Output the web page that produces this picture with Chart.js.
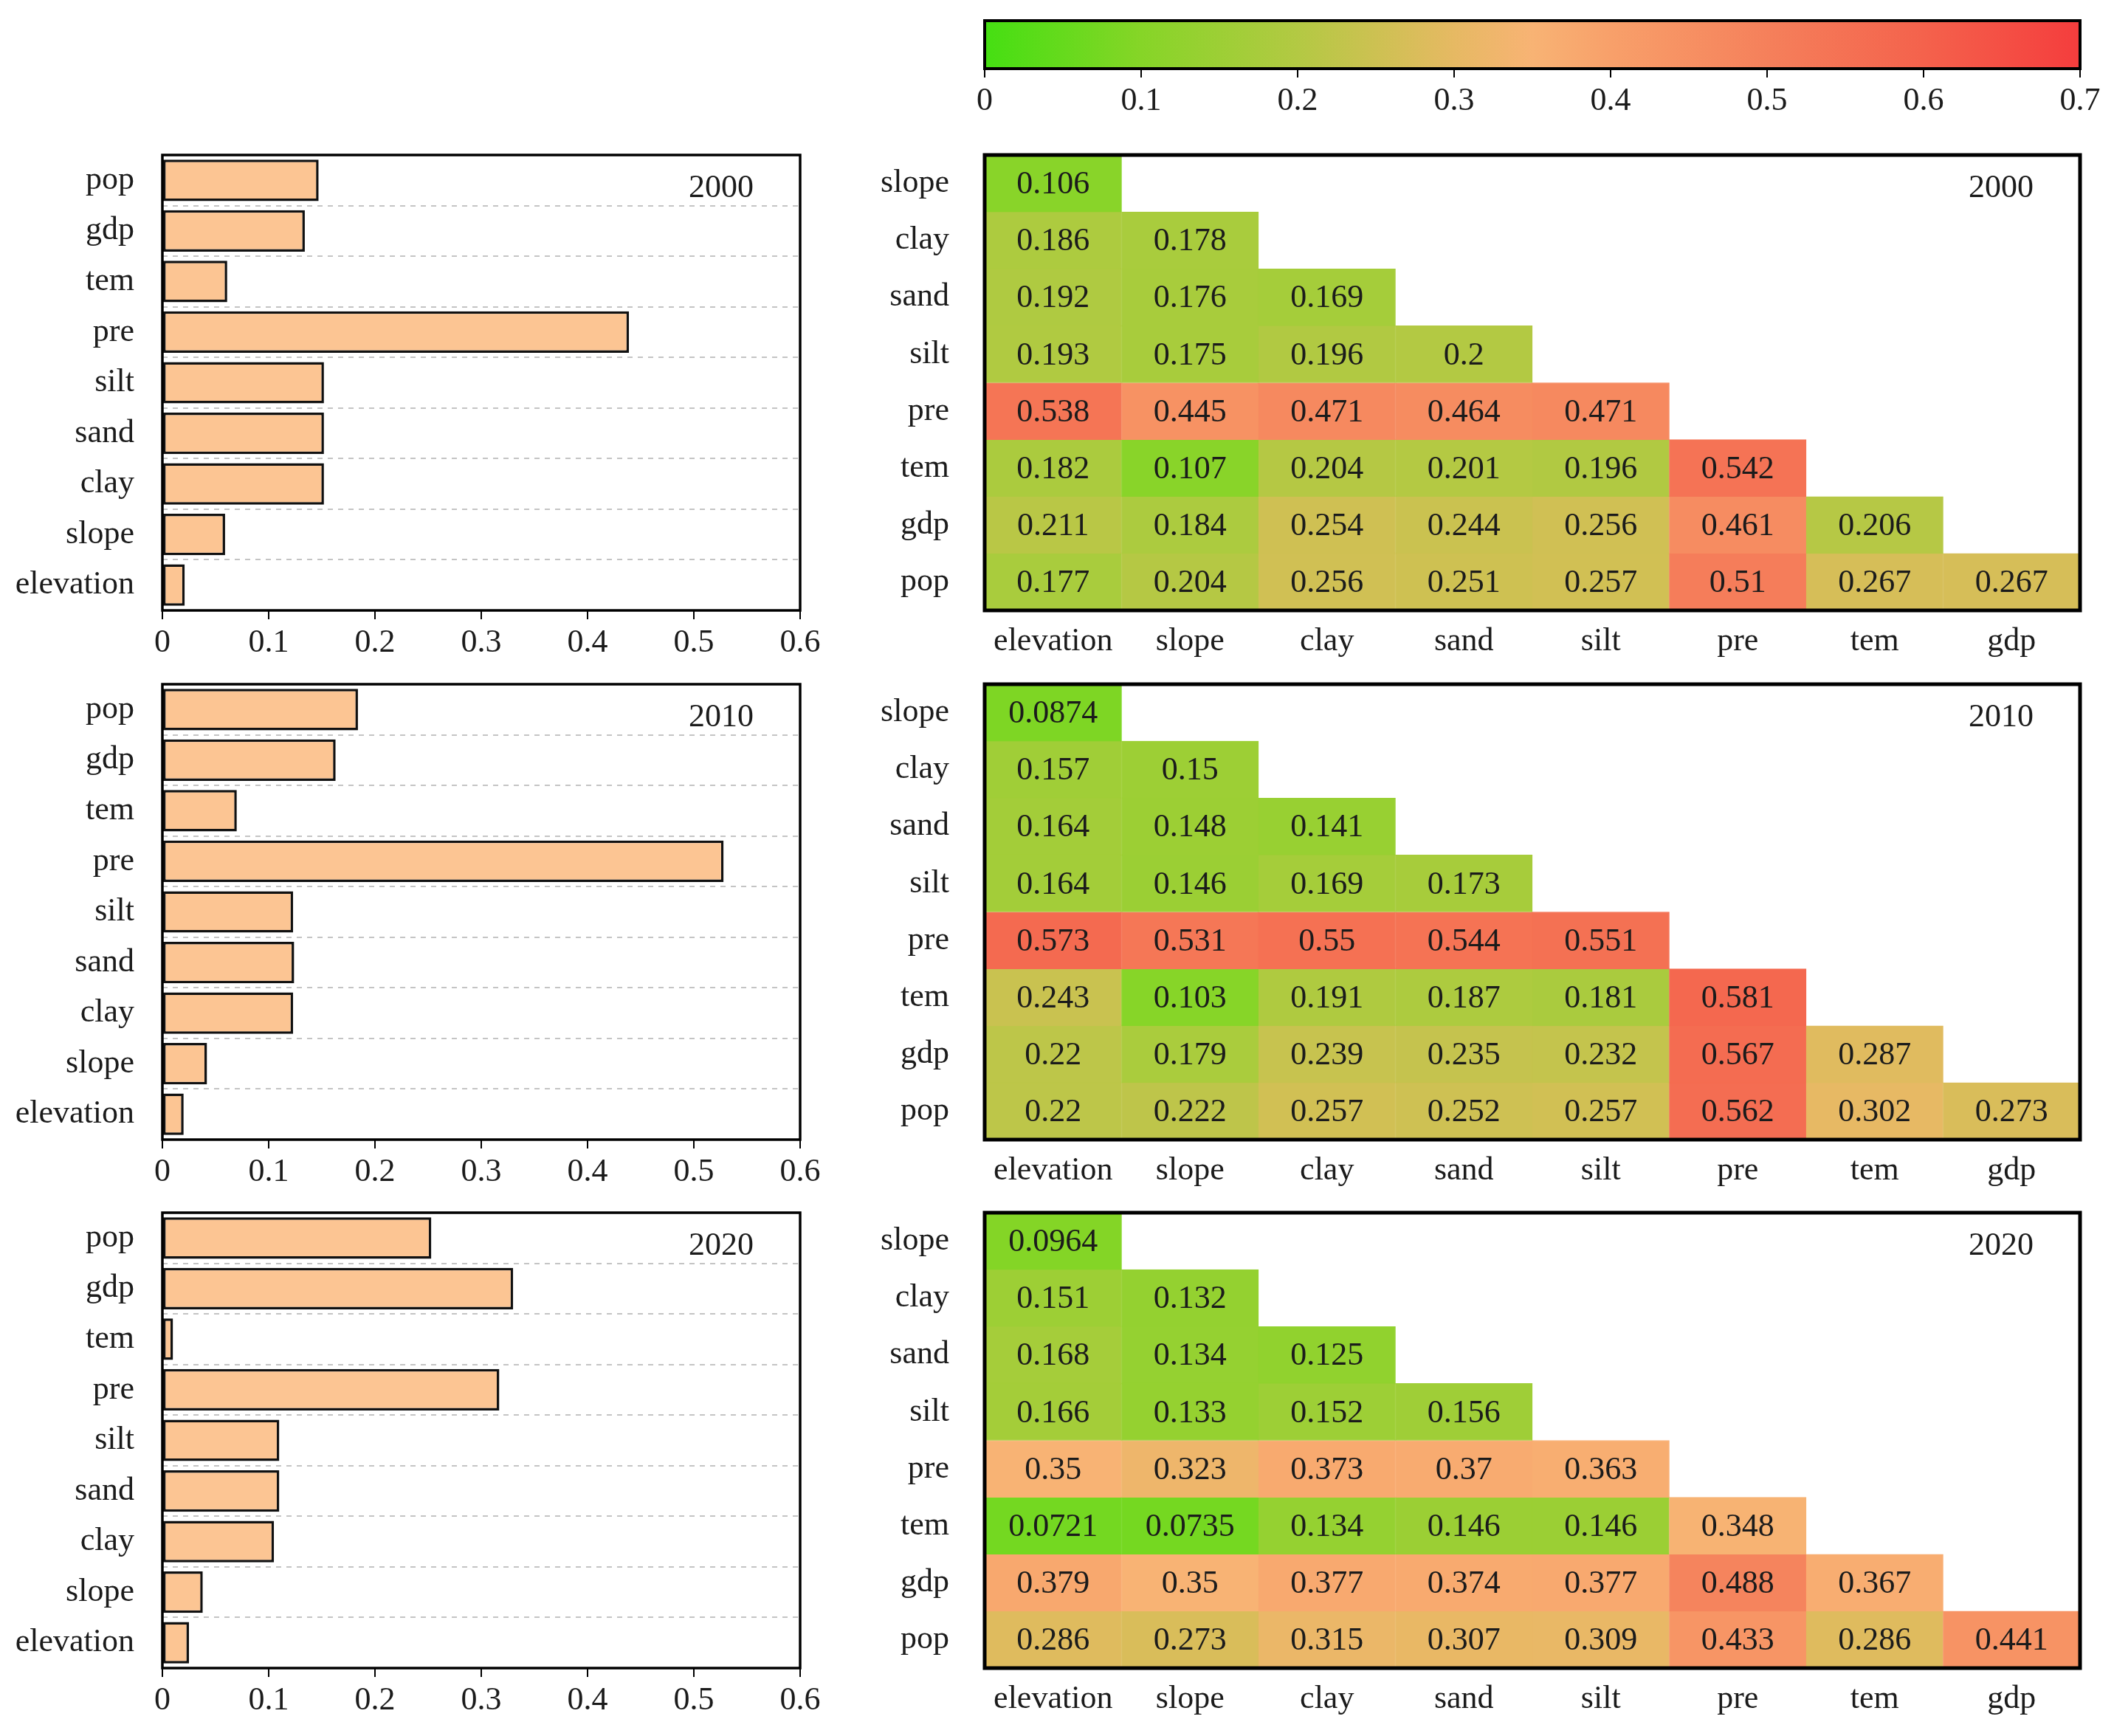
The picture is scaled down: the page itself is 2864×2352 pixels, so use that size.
<!DOCTYPE html>
<html>
<head>
<meta charset="utf-8">
<script src="https://cdn.jsdelivr.net/npm/chart.js@4.4.1/dist/chart.umd.min.js"></script>
<style>
    body { margin: 0; background: #fff; width: 2864px; height: 2352px; position: relative; overflow: hidden; }
    canvas { position: absolute; }
    #fontwarm { position: absolute; left: -9999px; top: 0; font-family: "Liberation Serif", "Times New Roman", serif; font-size: 44px; }
</style>
</head>
<body>
<div id="fontwarm">0.123456789 elevation slope clay sand silt pre tem gdp pop</div>
<canvas id="cbar" width="1714" height="180" style="left:1150px;top:0px"></canvas>
<canvas id="bar2000" width="1150" height="720" style="left:0px;top:180px"></canvas>
<canvas id="heat2000" width="1714" height="720" style="left:1150px;top:180px"></canvas>
<canvas id="bar2010" width="1150" height="720" style="left:0px;top:897px"></canvas>
<canvas id="heat2010" width="1714" height="720" style="left:1150px;top:897px"></canvas>
<canvas id="bar2020" width="1150" height="720" style="left:0px;top:1613px"></canvas>
<canvas id="heat2020" width="1714" height="720" style="left:1150px;top:1613px"></canvas>
<script>
/* global Chart */

// bar charts: factors top to bottom
const barFactors = ['pop', 'gdp', 'tem', 'pre', 'silt', 'sand', 'clay', 'slope', 'elevation'];
const bar2000 = [0.147, 0.134, 0.061, 0.439, 0.152, 0.152, 0.152, 0.059, 0.021];
const bar2010 = [0.184, 0.163, 0.070, 0.528, 0.123, 0.124, 0.123, 0.042, 0.020];
const bar2020 = [0.253, 0.330, 0.010, 0.317, 0.110, 0.110, 0.105, 0.038, 0.025];

// heatmaps: lower triangle, rows top to bottom
const heatCols = ['elevation', 'slope', 'clay', 'sand', 'silt', 'pre', 'tem', 'gdp'];
const heatRows = ['slope', 'clay', 'sand', 'silt', 'pre', 'tem', 'gdp', 'pop'];
const heat2000 = [
    [0.106],
    [0.186, 0.178],
    [0.192, 0.176, 0.169],
    [0.193, 0.175, 0.196, 0.2],
    [0.538, 0.445, 0.471, 0.464, 0.471],
    [0.182, 0.107, 0.204, 0.201, 0.196, 0.542],
    [0.211, 0.184, 0.254, 0.244, 0.256, 0.461, 0.206],
    [0.177, 0.204, 0.256, 0.251, 0.257, 0.51, 0.267, 0.267],
];
const heat2010 = [
    [0.0874],
    [0.157, 0.15],
    [0.164, 0.148, 0.141],
    [0.164, 0.146, 0.169, 0.173],
    [0.573, 0.531, 0.55, 0.544, 0.551],
    [0.243, 0.103, 0.191, 0.187, 0.181, 0.581],
    [0.22, 0.179, 0.239, 0.235, 0.232, 0.567, 0.287],
    [0.22, 0.222, 0.257, 0.252, 0.257, 0.562, 0.302, 0.273],
];
const heat2020 = [
    [0.0964],
    [0.151, 0.132],
    [0.168, 0.134, 0.125],
    [0.166, 0.133, 0.152, 0.156],
    [0.35, 0.323, 0.373, 0.37, 0.363],
    [0.0721, 0.0735, 0.134, 0.146, 0.146, 0.348],
    [0.379, 0.35, 0.377, 0.374, 0.377, 0.488, 0.367],
    [0.286, 0.273, 0.315, 0.307, 0.309, 0.433, 0.286, 0.441],
];

// colour scale range
const scaleMin = 0;
const scaleMax = 0.7;

// colour ramp (style)
const ramp = [
    [0.00, '#45df12'],
    [0.10, '#86d527'],
    [0.20, '#b3c943'],
    [0.25, '#cdc152'],
    [0.30, '#e6b963'],
    [0.35, '#f8b374'],
    [0.40, '#f8a06a'],
    [0.50, '#f5805b'],
    [0.60, '#f4624c'],
    [0.70, '#f43d3d'],
];

const FONT = '"Liberation Serif", "Times New Roman", Times, "DejaVu Serif", serif';
const INK = '#1b1b1b';
Chart.defaults.font.family = FONT;
Chart.defaults.font.size = 44;
Chart.defaults.color = INK;

function hexRgb(h) {
    return [1, 3, 5].map(i => parseInt(h.slice(i, i + 2), 16));
}

function heatColor(v) {
    if (v <= ramp[0][0]) return ramp[0][1];
    for (let i = 1; i < ramp.length; i++) {
        if (v <= ramp[i][0]) {
            const t = (v - ramp[i - 1][0]) / (ramp[i][0] - ramp[i - 1][0]);
            const a = hexRgb(ramp[i - 1][1]);
            const b = hexRgb(ramp[i][1]);
            const c = a.map((x, k) => Math.round(x + (b[k] - x) * t));
            return `rgb(${c[0]},${c[1]},${c[2]})`;
        }
    }
    return ramp[ramp.length - 1][1];
}

// box around the plot area
const framePlugin = {
    id: 'frame',
    afterDatasetsDraw(chart, args, opts) {
        const { ctx, chartArea: a } = chart;
        ctx.save();
        ctx.strokeStyle = '#000';
        ctx.lineWidth = opts.width || 3;
        ctx.strokeRect(a.left, a.top, a.right - a.left, a.bottom - a.top);
        ctx.restore();
    },
};

// year label in the top right corner
const yearPlugin = {
    id: 'yearLabel',
    afterDraw(chart, args, opts) {
        if (!opts.text) return;
        const { ctx, chartArea: a } = chart;
        ctx.save();
        ctx.font = '44px ' + FONT;
        ctx.fillStyle = INK;
        ctx.textAlign = 'center';
        ctx.textBaseline = 'middle';
        ctx.fillText(opts.text, a.right - 107, a.top + 45);
        ctx.restore();
    },
};

// value text inside each heatmap cell
const cellTextPlugin = {
    id: 'cellText',
    afterDatasetsDraw(chart, args, opts) {
        if (!opts.show) return;
        const { ctx } = chart;
        ctx.save();
        ctx.font = '44px ' + FONT;
        ctx.fillStyle = INK;
        ctx.textAlign = 'center';
        ctx.textBaseline = 'middle';
        chart.data.datasets.forEach((ds, di) => {
            const meta = chart.getDatasetMeta(di);
            meta.data.forEach((el, i) => {
                const v = ds.values[i];
                if (v == null) return;
                ctx.fillText(String(v), el.x, (el.y + el.base) / 2 + 2);
            });
        });
        ctx.restore();
    },
};

Chart.register(framePlugin, yearPlugin, cellTextPlugin);

function xValueTicks(step) {
    return {
        stepSize: step,
        padding: 6,
        color: INK,
        callback: v => String(+v.toFixed(1)),
    };
}

function fitY(width) {
    return s => { s.width = width; s.paddingTop = 0; s.paddingBottom = 0; };
}

function fitX(height) {
    return s => { s.height = height; s.paddingLeft = 0; s.paddingRight = 0; };
}

function makeBar(id, values, year) {
    new Chart(document.getElementById(id), {
        type: 'bar',
        data: {
            labels: barFactors,
            datasets: [{
                data: values,
                backgroundColor: '#fcc593',
                borderColor: '#111',
                borderWidth: 3.5,
                borderSkipped: false,
                barPercentage: 0.82,
                categoryPercentage: 1,
            }],
        },
        options: {
            indexAxis: 'y',
            responsive: false,
            animation: false,
            devicePixelRatio: 1,
            layout: { padding: { top: 30, right: 66, left: 0, bottom: 0 } },
            plugins: {
                legend: { display: false },
                tooltip: { enabled: false },
                frame: { width: 3.5 },
                yearLabel: { text: year },
                cellText: { show: false },
            },
            scales: {
                x: {
                    min: 0,
                    max: 0.6,
                    ticks: xValueTicks(0.1),
                    grid: { drawOnChartArea: false, tickLength: 12, color: '#000', lineWidth: 2 },
                    border: { display: false },
                    afterFit: fitX(73),
                },
                y: {
                    offset: true,
                    ticks: { padding: 38, color: INK },
                    grid: {
                        offset: true,
                        drawTicks: false,
                        color: '#c4c4c4',
                        lineWidth: 2,
                    },
                    border: { display: false, dash: [7, 7] },
                    afterFit: fitY(220),
                },
            },
        },
    });
}

function makeHeat(id, rows, year) {
    const datasets = heatRows.map((rowName, r) => {
        const vals = heatCols.map((_, c) => (c < rows[r].length ? rows[r][c] : null));
        return {
            label: rowName,
            values: vals,
            data: vals.map(v => (v == null ? null : [r, r + 1])),
            backgroundColor: vals.map(v => (v == null ? 'rgba(0,0,0,0)' : heatColor(v))),
            borderColor: vals.map(v => (v == null ? 'rgba(0,0,0,0)' : heatColor(v))),
            borderWidth: 1,
            borderSkipped: false,
            grouped: false,
            barPercentage: 1,
            categoryPercentage: 1,
        };
    });
    new Chart(document.getElementById(id), {
        type: 'bar',
        data: { labels: heatCols, datasets },
        options: {
            responsive: false,
            animation: false,
            devicePixelRatio: 1,
            layout: { padding: { top: 30, right: 46, left: 0, bottom: 0 } },
            plugins: {
                legend: { display: false },
                tooltip: { enabled: false },
                frame: { width: 5 },
                yearLabel: { text: year },
                cellText: { show: true },
            },
            scales: {
                x: {
                    ticks: { padding: 8, color: INK },
                    grid: { display: false },
                    border: { display: false },
                    afterFit: fitX(73),
                },
                y: {
                    min: 0,
                    max: heatRows.length,
                    reverse: true,
                    afterBuildTicks: s => { s.ticks = heatRows.map((_, i) => ({ value: i + 0.5 })); },
                    ticks: {
                        autoSkip: false,
                        padding: 40,
                        color: INK,
                        callback: v => heatRows[Math.floor(v)],
                    },
                    grid: { display: false },
                    border: { display: false },
                    afterFit: fitY(184),
                },
            },
        },
    });
}

function makeColorBar() {
    new Chart(document.getElementById('cbar'), {
        type: 'bar',
        data: {
            labels: ['scale'],
            datasets: [{
                data: [[scaleMin, scaleMax]],
                backgroundColor: (c) => {
                    const chart = c.chart;
                    if (!chart.chartArea) return ramp[0][1];
                    const xs = chart.scales.x;
                    const g = chart.ctx.createLinearGradient(xs.getPixelForValue(scaleMin), 0, xs.getPixelForValue(scaleMax), 0);
                    ramp.forEach(([v, col]) => g.addColorStop((v - scaleMin) / (scaleMax - scaleMin), col));
                    return g;
                },
                borderWidth: 0,
                barPercentage: 1,
                categoryPercentage: 1,
            }],
        },
        options: {
            indexAxis: 'y',
            responsive: false,
            animation: false,
            devicePixelRatio: 1,
            layout: { padding: { top: 28, right: 46, left: 184, bottom: 0 } },
            plugins: {
                legend: { display: false },
                tooltip: { enabled: false },
                frame: { width: 4 },
                yearLabel: { text: '' },
                cellText: { show: false },
            },
            scales: {
                x: {
                    min: scaleMin,
                    max: scaleMax,
                    ticks: xValueTicks(0.1),
                    grid: { drawOnChartArea: false, tickLength: 12, color: '#000', lineWidth: 2 },
                    border: { display: false },
                    afterFit: fitX(87),
                },
                y: { display: false },
            },
        },
    });
}

function build() {
    makeColorBar();
    makeBar('bar2000', bar2000, '2000');
    makeBar('bar2010', bar2010, '2010');
    makeBar('bar2020', bar2020, '2020');
    makeHeat('heat2000', heat2000, '2000');
    makeHeat('heat2010', heat2010, '2010');
    makeHeat('heat2020', heat2020, '2020');
}

Promise.all([
    document.fonts.load('44px "Liberation Serif"'),
    document.fonts.load('44px "Times New Roman"'),
]).catch(() => null).then(build);
</script>
</body>
</html>
